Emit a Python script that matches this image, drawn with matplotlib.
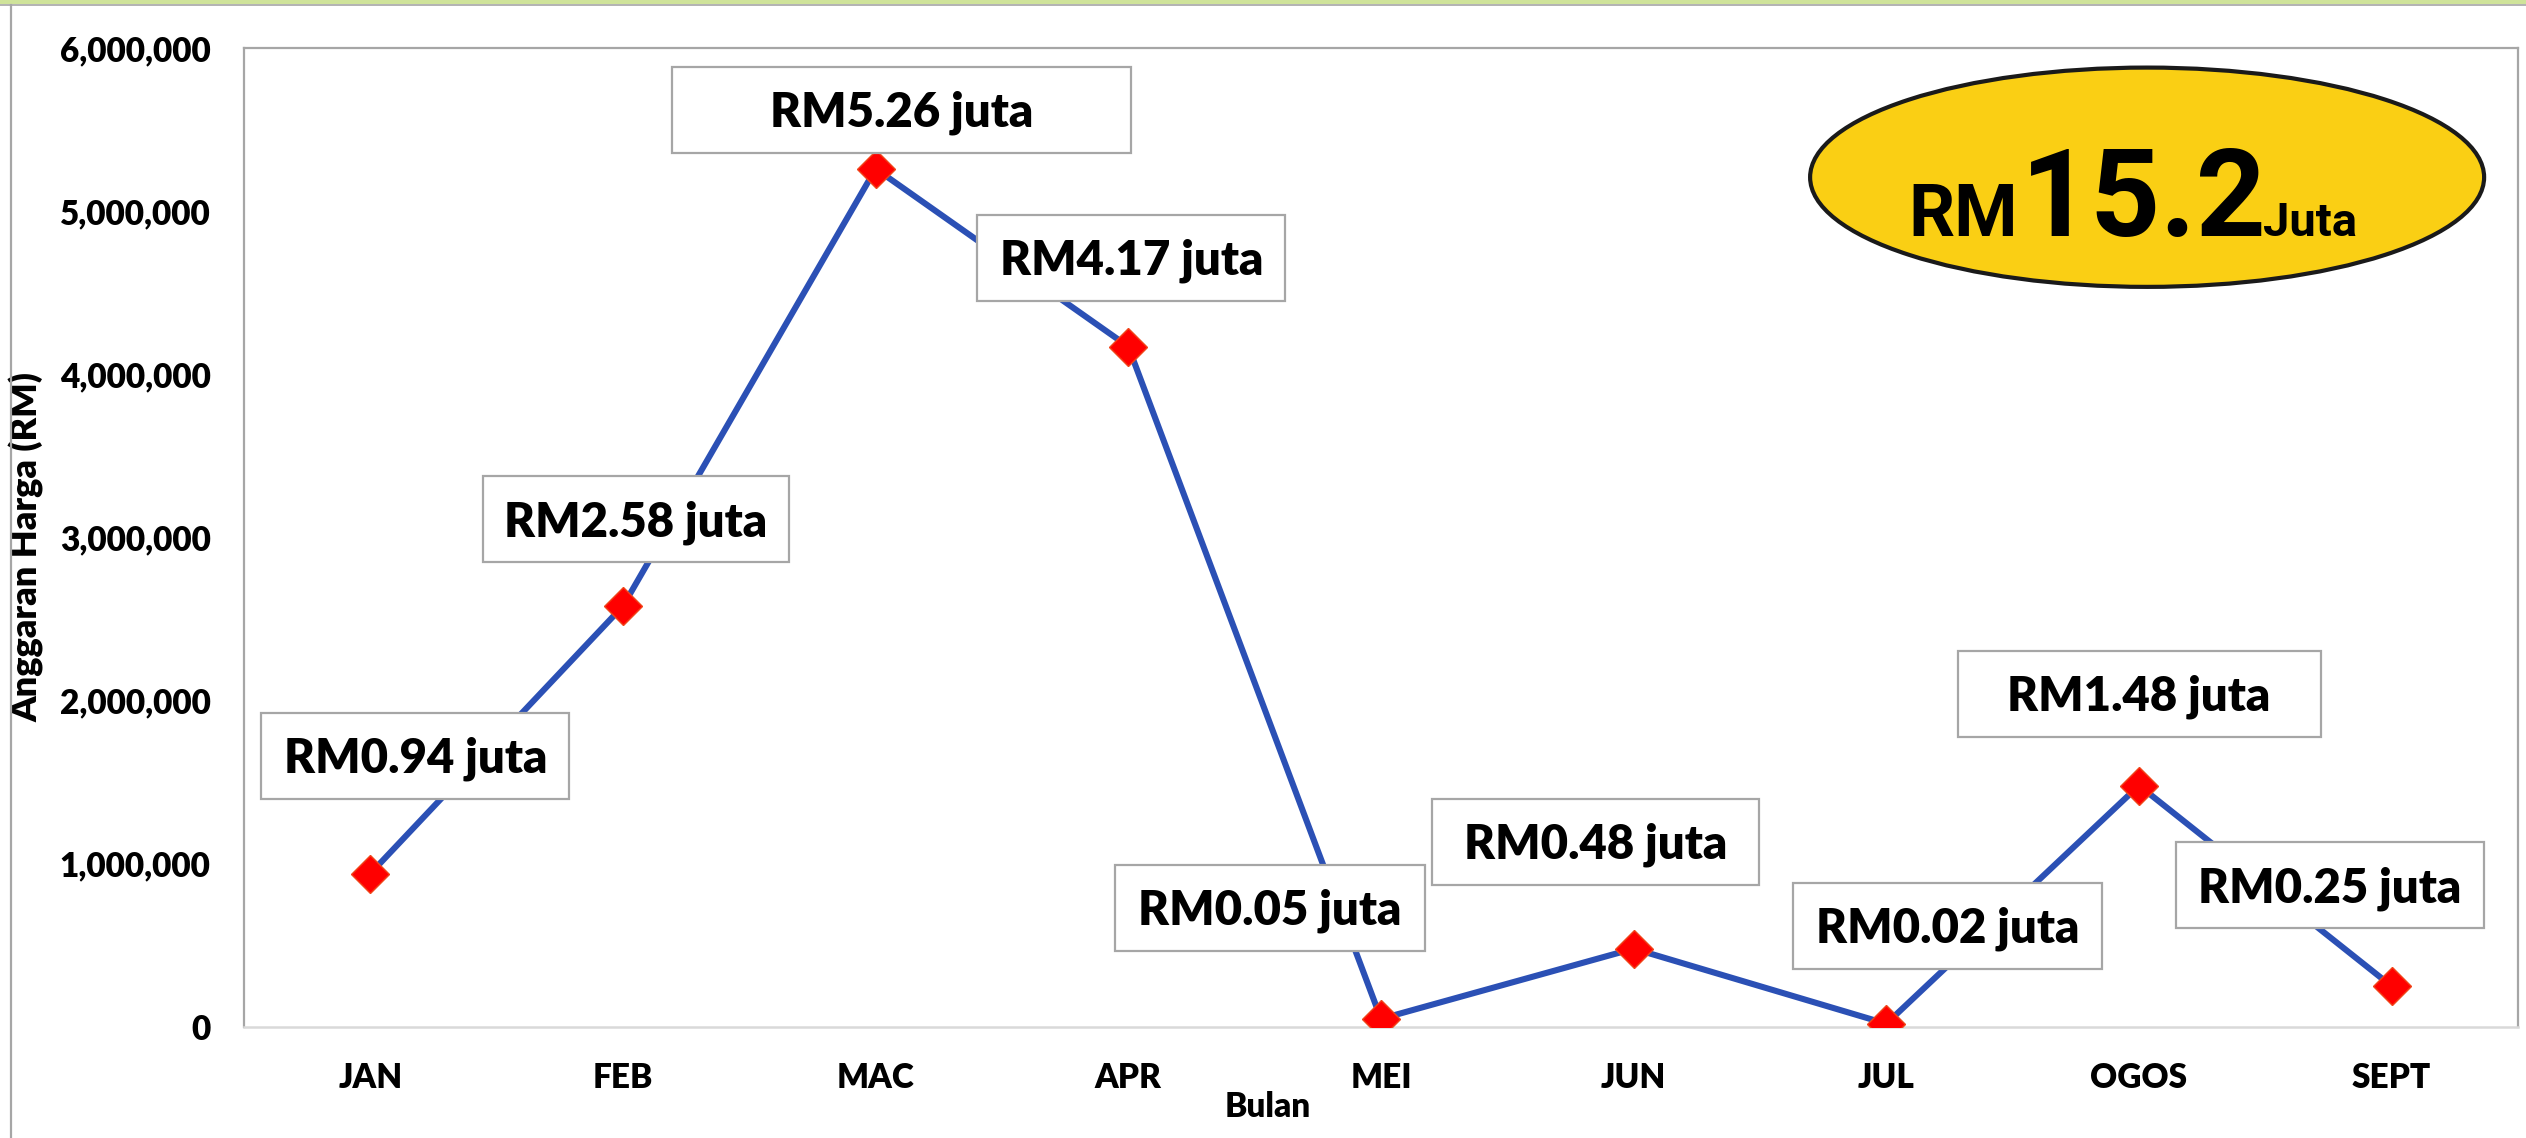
import matplotlib
matplotlib.use("Agg")
import matplotlib.pyplot as plt
from matplotlib import font_manager
from matplotlib.patches import Ellipse, Rectangle
from matplotlib.lines import Line2D
from matplotlib.ticker import FuncFormatter, MultipleLocator
import matplotlib.transforms as mtransforms

# data
bulan = ["JAN", "FEB", "MAC", "APR", "MEI", "JUN", "JUL", "OGOS", "SEPT"]
harga = [940000, 2580000, 5260000, 4170000, 50000, 480000, 20000, 1480000, 250000]
label_juta = ["RM0.94 juta", "RM2.58 juta", "RM5.26 juta", "RM4.17 juta", "RM0.05 juta",
              "RM0.48 juta", "RM0.02 juta", "RM1.48 juta", "RM0.25 juta"]
jumlah = "15.2"

# label box layout, in pixels relative to each marker
box_dx = [45, 13, 26, 3, -111, -38, 61, 0, -62]
box_dy = [118, 87, 59, 89, 111, 107, 98, 92, 101]
box_w = [308, 306, 459, 308, 310, 327, 309, 363, 308]
box_h = 86

names = {f.name for f in font_manager.fontManager.ttflist}
label_font = "Lato" if "Lato" in names else "DejaVu Sans"
badge_font = "Roboto" if "Roboto" in names else "DejaVu Sans"

fig = plt.figure(figsize=(25.26, 11.38), dpi=100)
ax = fig.add_axes([244 / 2526, 111 / 1138, 2274 / 2526, 979 / 1138])

x = list(range(len(bulan)))
ax.plot(x, harga, color="#2B50B5", lw=4.4, marker="D", markersize=19,
        markerfacecolor="#FF0000", markeredgecolor="#F0451A", markeredgewidth=1, zorder=3)

ax.set_xlim(-0.5, len(bulan) - 0.5)
ax.set_ylim(0, 6000000)
ax.yaxis.set_major_locator(MultipleLocator(1000000))
ax.yaxis.set_major_formatter(FuncFormatter(lambda v, _: "{:,}".format(int(v))))
ax.set_xticks(x)
ax.set_xticklabels(bulan)
ax.tick_params(axis="both", length=0, labelsize=24)
ax.tick_params(axis="y", pad=24)
ax.tick_params(axis="x", pad=25)
for t in ax.get_xticklabels() + ax.get_yticklabels():
    t.set_fontfamily(label_font)
    t.set_fontweight("heavy")

for side in ["top", "left", "right"]:
    ax.spines[side].set_color("#A6A6A6")
    ax.spines[side].set_linewidth(1.6)
ax.spines["bottom"].set_color("#D9D9D9")
ax.spines["bottom"].set_linewidth(1.8)

ax.set_xlabel("Bulan", fontsize=24, fontweight="heavy", fontfamily=label_font, va="center")
ax.xaxis.set_label_coords(0.450, -0.082)
ax.set_ylabel("Anggaran Harga (RM)", fontsize=26, fontweight="heavy", fontfamily=label_font, va="center")
ax.yaxis.set_label_coords(-0.0954, 0.49)

# value labels in boxes
for i in range(len(bulan)):
    trans = mtransforms.ScaledTranslation(x[i], harga[i], ax.transData)
    ax.add_patch(Rectangle((box_dx[i] - box_w[i] / 2, box_dy[i] - box_h / 2), box_w[i], box_h,
                           transform=trans, facecolor="white", edgecolor="#A6A6A6",
                           lw=1.6, zorder=4, clip_on=False))
    ax.annotate(label_juta[i], xy=(x[i], harga[i]), xytext=(box_dx[i], box_dy[i] - 17),
                textcoords="offset pixels", ha="center", va="baseline",
                fontsize=34, fontweight="heavy", fontfamily=label_font, zorder=5)

# total badge
ax.add_patch(Ellipse((0.8369, 0.868), 0.2964, 0.224, transform=ax.transAxes,
                     facecolor="#FACF14", edgecolor="#1A1A1A", lw=3, zorder=6))
ax.text(0.7800, 0.808, "RM", transform=ax.transAxes, ha="right", va="baseline",
        fontsize=52, fontweight="bold", fontfamily=badge_font, zorder=7)
ax.text(0.8354, 0.808, jumlah, transform=ax.transAxes, ha="center", va="baseline",
        fontsize=88, fontweight="bold", fontfamily=badge_font, zorder=7)
ax.text(0.8880, 0.808, "Juta", transform=ax.transAxes, ha="left", va="baseline",
        fontsize=34, fontweight="bold", fontfamily=badge_font, zorder=7)

# outer slide frame
fig.add_artist(Rectangle((0, 1 - 4 / 1138), 1, 4 / 1138, transform=fig.transFigure,
                         facecolor="#CFE39A", edgecolor="none"))
fig.add_artist(Line2D([0, 1], [1 - 5 / 1138] * 2, transform=fig.transFigure, color="#A6A6A6", lw=1.2))
fig.add_artist(Line2D([10.5 / 2526] * 2, [0, 1 - 5 / 1138], transform=fig.transFigure,
                      color="#A6A6A6", lw=1.6))

fig.savefig("out.png", dpi=100)
